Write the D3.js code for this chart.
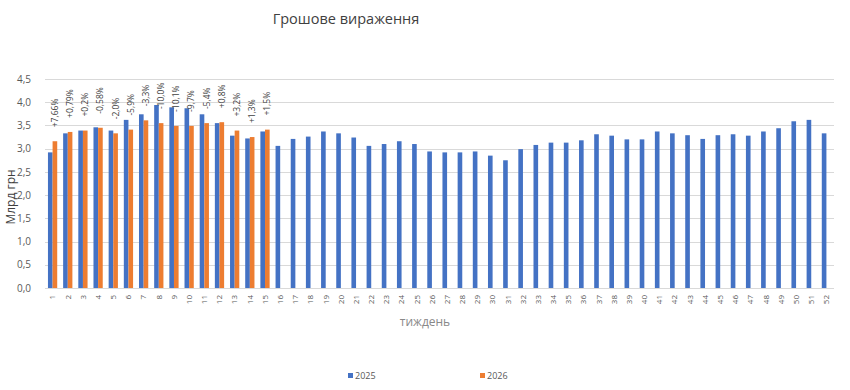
<!DOCTYPE html>
<html>
<head>
<meta charset="utf-8">
<script src="https://cdn.jsdelivr.net/npm/d3@7"></script>
<style>
  body { margin: 0; background: #fff; }
  svg text { font-family: "Open Sans", "DejaVu Sans", sans-serif; }
</style>
</head>
<body>
<div id="chart"></div>
<script>
// weekly values, billion UAH
var weeks = d3.range(1, 53);
var series = ["2025", "2026"];
var values2025 = [2.92, 3.33, 3.39, 3.46, 3.39, 3.62, 3.74, 3.94, 3.89, 3.87, 3.74, 3.55, 3.28, 3.22, 3.37, 3.06,
  3.21, 3.26, 3.37, 3.33, 3.24, 3.06, 3.10, 3.16, 3.10, 2.94, 2.92, 2.92, 2.94, 2.85, 2.75, 2.99,
  3.08, 3.13, 3.13, 3.18, 3.31, 3.28, 3.20, 3.20, 3.37, 3.33, 3.29, 3.21, 3.29, 3.31, 3.28, 3.37,
  3.44, 3.59, 3.62, 3.33];
var values2026 = [3.16, 3.36, 3.39, 3.45, 3.33, 3.41, 3.61, 3.55, 3.49, 3.49, 3.55, 3.57, 3.39, 3.25, 3.41];
var changeLabels = ["+7,66%", "+0,79%", "+0,2%", "-0,58%", "-2,0%", "-5,9%", "-3,3%", "-10,0%", "-10,1%",
  "-9,7%", "-5,4%", "+0,8%", "+3,2%", "+1,3%", "+1,5%"];
var yTicks = [0, 0.5, 1, 1.5, 2, 2.5, 3, 3.5, 4, 4.5];
var colors = {"2025": "#4472C4", "2026": "#ED7D31"};

var width = 850, height = 390;
var margin = {top: 79, right: 16, bottom: 102, left: 45};

var svg = d3.select("#chart").append("svg")
  .attr("width", width)
  .attr("height", height);

var x0 = d3.scaleBand()
  .domain(weeks)
  .range([margin.left, width - margin.right])
  .paddingInner(0.39)
  .paddingOuter(0.195);

var x1 = d3.scaleBand()
  .domain(series)
  .range([0, x0.bandwidth()]);

var y = d3.scaleLinear()
  .domain([0, 4.5])
  .range([height - margin.bottom, margin.top]);

// gridlines
svg.append("g")
  .selectAll("line")
  .data(yTicks)
  .join("line")
  .attr("x1", margin.left)
  .attr("x2", width - margin.right)
  .attr("y1", function(d) { return Math.round(y(d)) + 0.5; })
  .attr("y2", function(d) { return Math.round(y(d)) + 0.5; })
  .attr("stroke", "#d9d9d9")
  .attr("stroke-width", 1);

// y axis labels
var yAxis = svg.append("g")
  .attr("transform", "translate(" + (margin.left - 11) + ",0)")
  .call(d3.axisLeft(y).tickValues(yTicks).tickSize(0)
    .tickFormat(function(d) { return d3.format(".1f")(d).replace(".", ","); }));
yAxis.select(".domain").remove();
yAxis.selectAll("text")
  .attr("fill", "#595959")
  .style("font-size", "10px");

// bars
var rows = weeks.map(function(w, i) {
  return {week: w, vals: [
    {key: "2025", value: values2025[i]},
    {key: "2026", value: values2026[i]}
  ]};
});

var groups = svg.append("g")
  .selectAll("g")
  .data(rows)
  .join("g")
  .attr("transform", function(d) { return "translate(" + x0(d.week) + ",0)"; });

groups.selectAll("rect")
  .data(function(d) { return d.vals.filter(function(v) { return v.value != null; }); })
  .join("rect")
  .attr("x", function(d) { return x1(d.key); })
  .attr("width", x1.bandwidth())
  .attr("y", function(d) { return y(d.value); })
  .attr("height", function(d) { return y(0) - y(d.value); })
  .attr("fill", function(d) { return colors[d.key]; });

// change labels above 2026 bars
svg.append("g")
  .selectAll("text")
  .data(changeLabels)
  .join("text")
  .attr("transform", function(d, i) {
    var cx = x0(weeks[i]) + x1("2026") + x1.bandwidth() / 2;
    return "translate(" + cx + "," + (y(values2026[i]) - 14) + ") rotate(-90)";
  })
  .attr("dy", "0.35em")
  .attr("text-anchor", "start")
  .attr("fill", "#404040")
  .style("font-size", "8.5px")
  .text(function(d) { return d; });

// x axis
var xAxis = svg.append("g")
  .attr("transform", "translate(0," + y(0) + ")")
  .call(d3.axisBottom(x0).tickSize(0).tickPadding(0));
xAxis.select(".domain").remove();
xAxis.selectAll("text")
  .attr("transform", "translate(0,7) rotate(-90)")
  .attr("x", 0)
  .attr("y", 0)
  .attr("dy", "0.35em")
  .attr("text-anchor", "end")
  .attr("fill", "#595959")
  .style("font-size", "8px");

// title
svg.append("text")
  .attr("x", 346)
  .attr("y", 24)
  .attr("text-anchor", "middle")
  .attr("fill", "#404040")
  .style("font-size", "14.5px")
  .text("Грошове вираження");

// axis titles
svg.append("text")
  .attr("transform", "translate(15,197) rotate(-90)")
  .attr("text-anchor", "middle")
  .attr("fill", "#404040")
  .style("font-size", "12px")
  .text("Млрд грн");

svg.append("text")
  .attr("x", 425)
  .attr("y", 326)
  .attr("text-anchor", "middle")
  .attr("fill", "#898989")
  .style("font-size", "12px")
  .text("тиждень");

// legend
var legendPos = [{key: "2025", x: 348}, {key: "2026", x: 480}];
var legend = svg.append("g")
  .selectAll("g")
  .data(legendPos)
  .join("g")
  .attr("transform", function(d) { return "translate(" + d.x + ",373)"; });
legend.append("rect")
  .attr("width", 5)
  .attr("height", 5)
  .attr("fill", function(d) { return colors[d.key]; });
legend.append("text")
  .attr("x", 7)
  .attr("y", 6)
  .attr("fill", "#595959")
  .style("font-size", "9px")
  .text(function(d) { return d.key; });
</script>
</body>
</html>
